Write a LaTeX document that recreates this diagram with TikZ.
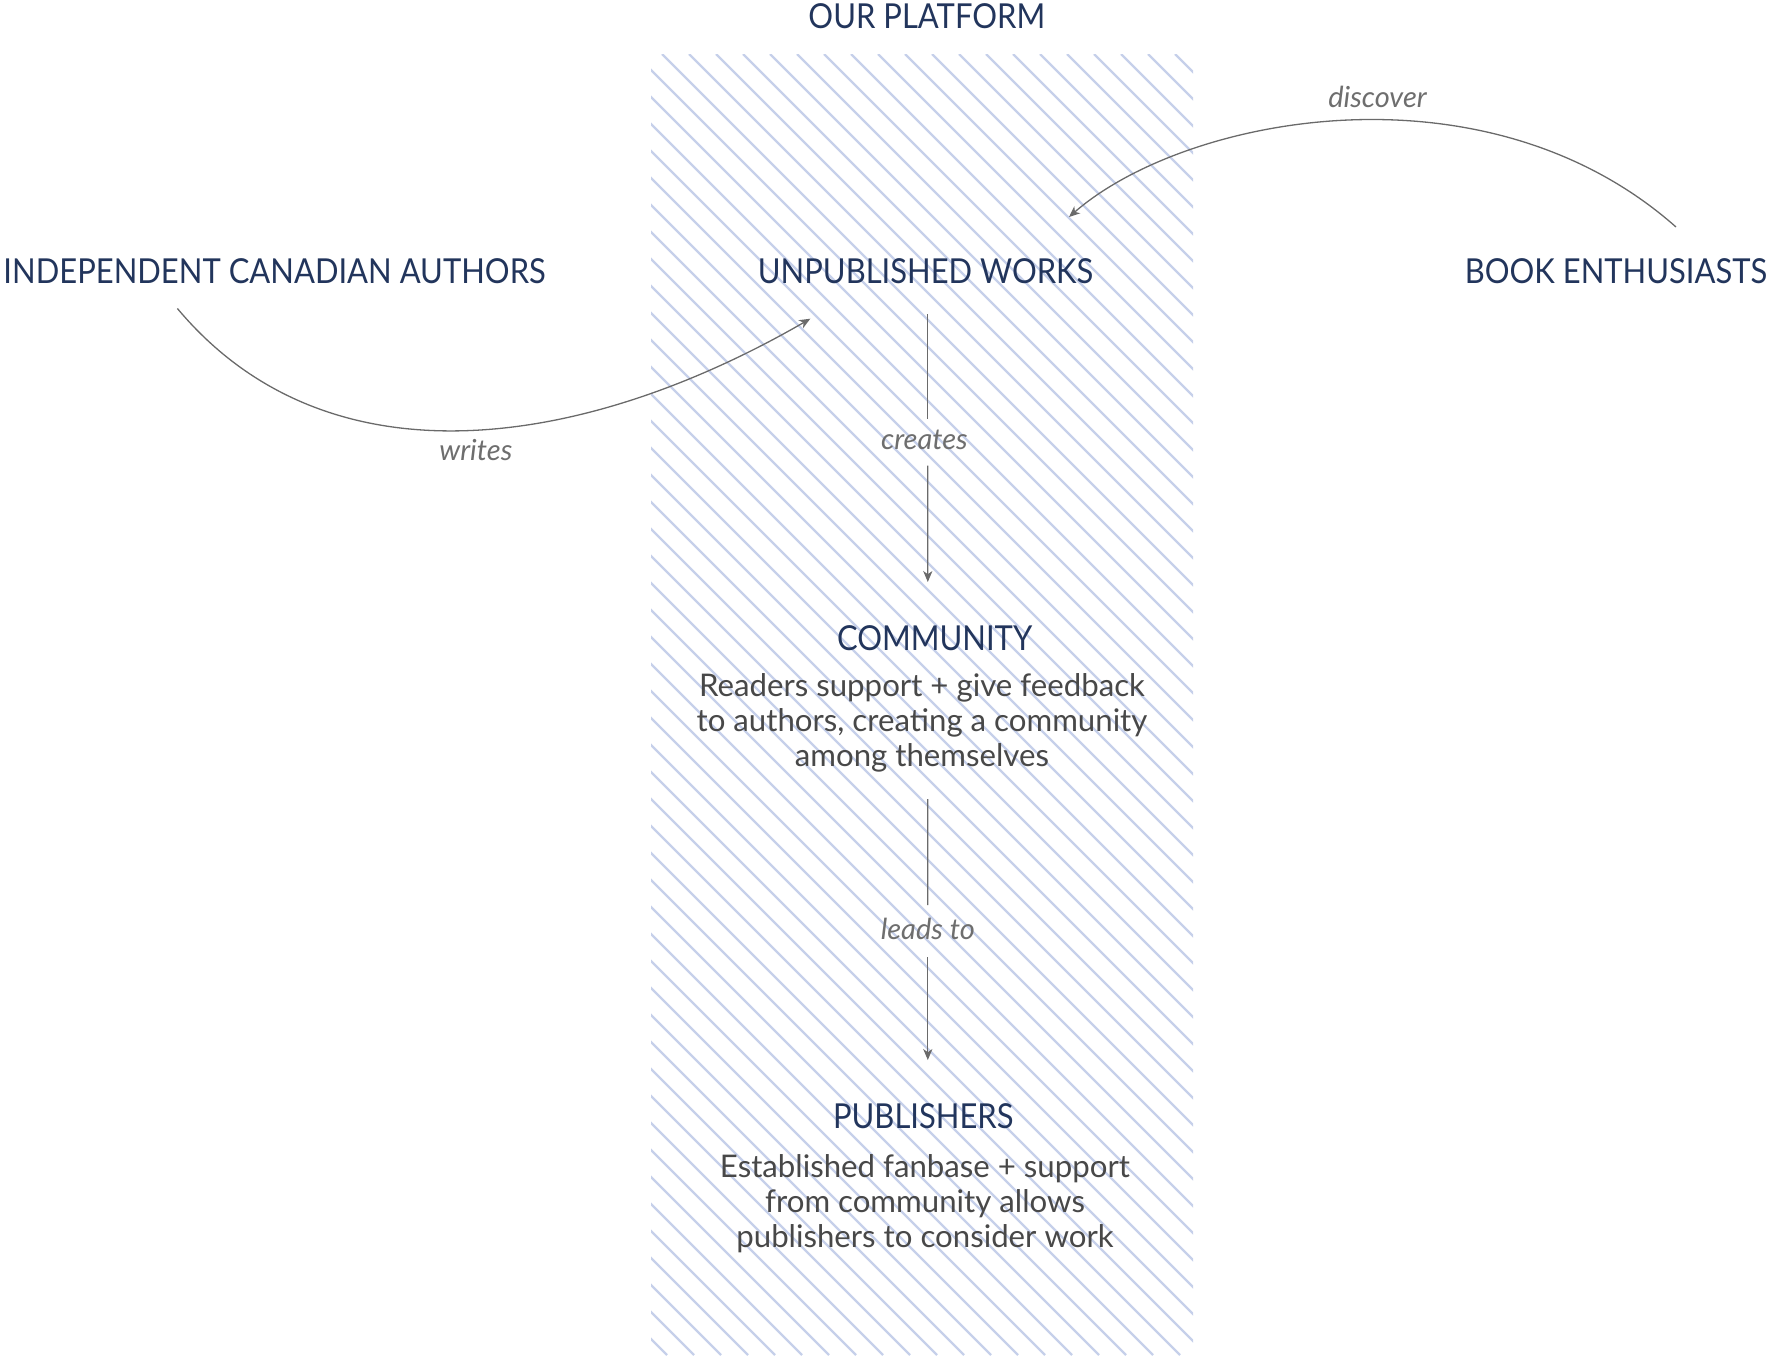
\documentclass[tikz,border=0pt]{standalone}
\usepackage{fontspec}
\setmainfont{Lato}
\newfontfamily\titlefont[FakeStretch=0.9]{Lato}
\usetikzlibrary{arrows.meta,calc}
\definecolor{navy}{HTML}{22355C}
\definecolor{bodygray}{HTML}{484848}
\definecolor{labgray}{HTML}{6E6E6E}
\definecolor{arrgray}{HTML}{6A6A6A}
\definecolor{hatchblue}{HTML}{C6D0EA}
\tikzset{
  title/.style={font=\titlefont\fontsize{17.2}{20}\selectfont, text=navy, inner sep=0pt, anchor=base},
  bodytext/.style={font=\fontsize{15.6}{17.5}\selectfont, text=bodygray, align=center, inner sep=0pt, anchor=base},
  lab/.style={font=\itshape\fontsize{14.5}{17}\selectfont, text=labgray, inner sep=0pt, anchor=base},
  conn/.style={draw=arrgray, line width=0.65pt},
  arr/.style={conn, -{Stealth[length=5.5pt,width=4.6pt,inset=1.6pt]}},
  hatchline/.style={draw=hatchblue, line width=1.15pt}
}
\begin{document}
\begin{tikzpicture}[x=0.5pt,y=-0.5pt]
\useasboundingbox (0,0) rectangle (1772,1355);
% hatched platform column
\begin{scope}
  \clip (651,54) rectangle (1193,1355);
  \foreach \k in {-30,...,41} {
    \draw[hatchline] ({68+27*\k},54) -- ++(1301,1301);
  }
\end{scope}
% texts
\node[title] (platform) at (926.8,28) {OUR PLATFORM};
\node[title] (authors) at (274.6,283.5) {INDEPENDENT CANADIAN AUTHORS};
\node[title] (unpub) at (925.6,283.5) {UNPUBLISHED WORKS};
\node[title] (enth) at (1616,283.5) {BOOK ENTHUSIASTS};
\node[title] (community) at (934.6,650) {COMMUNITY};
\node[bodytext] (commbody) at (922,766) {Readers support + give feedback\\to authors, creating a community\\among themselves};
\node[title] (publishers) at (923.3,1128) {PUBLISHERS};
\node[bodytext] (pubbody) at (925,1247.6) {Established fanbase + support\\from community allows\\publishers to consider work};
\node[lab] (discover) at (1377.5,107.5) {discover};
\node[lab] (writes) at (475.8,460) {writes};
\node[lab] (creates) at (924.4,449) {creates};
\node[lab] (leads) at (927.8,939) {leads to};
% connectors
\draw[arr] ($(authors.base)+(-97.2,25)$) .. controls (331,492) and (590,446) .. ($(unpub.base)+(-115.3,35.2)$);
\draw[arr] ($(enth.base)+(60,-56.5)$) .. controls (1485,58) and (1185,116) .. ($(unpub.base)+(143.4,-66.5)$);
\draw[conn] ($(unpub.base)+(2.2,30.5)$) -- ($(creates.base)+(3.4,-30)$);
\draw[arr] ($(creates.base)+(3.4,16.6)$) -- ($(community.base)+(-6.8,-68)$);
\draw[conn] ($(community.base)+(-6.8,149)$) -- ($(leads.base)+(0,-34)$);
\draw[arr] ($(leads.base)+(0,18)$) -- ($(publishers.base)+(4.5,-68)$);
\end{tikzpicture}
\end{document}
